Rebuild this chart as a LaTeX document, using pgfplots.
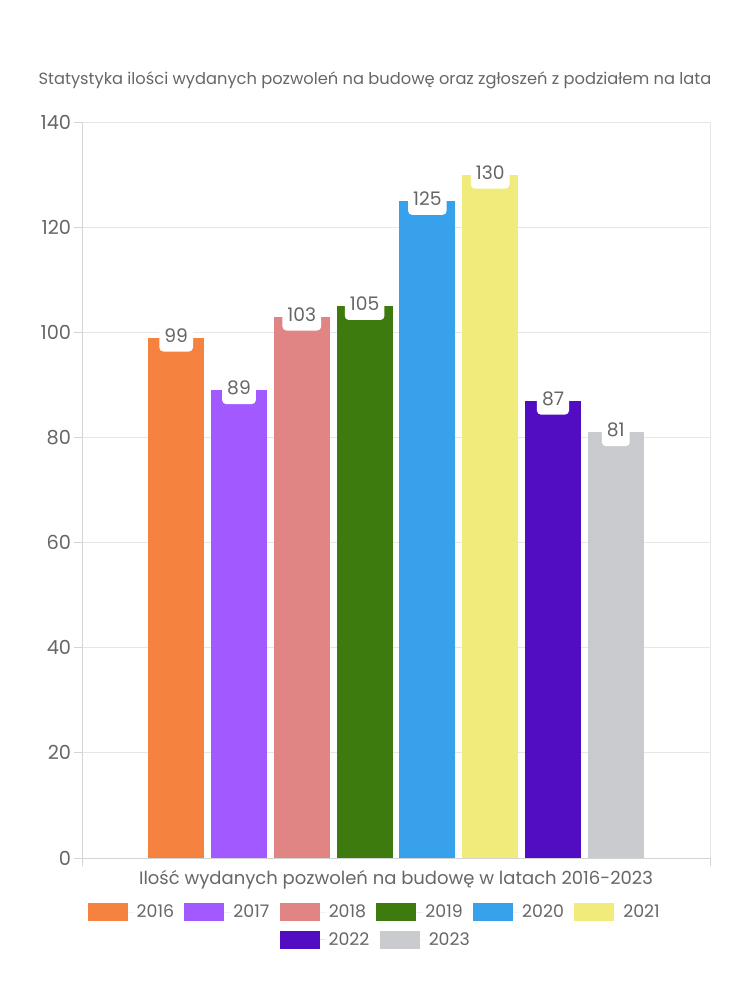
\documentclass[border=0pt]{standalone}
\usepackage{fontspec}
\setmainfont{Poppins}
\usepackage{pgfplots}
\pgfplotsset{compat=1.18}

\definecolor{txt}{HTML}{666666}
\definecolor{gridc}{HTML}{E6E6E6}
\definecolor{axisc}{HTML}{D4D4D4}
\definecolor{c2016}{HTML}{F5833F}
\definecolor{c2017}{HTML}{A259FF}
\definecolor{c2018}{HTML}{E08484}
\definecolor{c2019}{HTML}{3E7B0E}
\definecolor{c2020}{HTML}{37A2EB}
\definecolor{c2021}{HTML}{F0EB7B}
\definecolor{c2022}{HTML}{520DC3}
\definecolor{c2023}{HTML}{CACBCF}

\pgfplotsset{
  boxleg/.style={
    legend image code/.code={%
      \fill[##1] (0pt,-6.75pt) rectangle (30pt,6.75pt);
      \path (0pt,0pt) -- (34.75pt,0pt);},
    legend style={draw=none, fill=none, inner sep=0pt, text=txt,
      font=\fontsize{13}{15}\selectfont,
      nodes={inner sep=2pt, anchor=west},
      /tikz/every even column/.append style={column sep=5.8pt}},
  },
  bar/.style={ybar, bar shift=0pt, bar width=42pt, draw=none, fill=#1},
}

\begin{document}
\begin{tikzpicture}
\path (0,0) rectangle (562.5pt,750pt);
\node[text=txt, font=\fontsize{12.2}{14}\selectfont] at (281.25pt,690pt)
  {Statystyka ilości wydanych pozwoleń na budowę oraz zgłoszeń z podziałem na lata};

\begin{axis}[
  at={(61.5pt,106.5pt)}, anchor=south west,
  scale only axis, width=471pt, height=552pt,
  xmin=-1.5, xmax=8.5, ymin=0, ymax=140,
  axis x line*=bottom, axis y line*=left,
  ytick={0,20,...,140}, xtick={-1.5,8.5}, xticklabels={},
  tick align=outside, major tick length=6pt,
  ymajorgrids, xmajorgrids,
  grid style={color=gridc, line width=0.6pt},
  axis line style={color=axisc, line width=0.6pt, -},
  tick style={color=axisc, line width=0.6pt},
  every tick label/.append style={text=txt, font=\fontsize{14.5}{16}\selectfont},
  yticklabel style={inner sep=2pt},
  /pgf/number format/assume math mode=true,
  xlabel={Ilość wydanych pozwoleń na budowę w latach 2016-2023},
  xlabel style={at={(axis description cs:0.5,0)}, anchor=center, yshift=-16.5pt,
    text=txt, font=\fontsize{13.5}{15}\selectfont},
  boxleg,
  legend columns=6,
  legend style={at={(axis description cs:0.4666,-0.0734)}, anchor=center},
  nodes near coords,
  nodes near coords style={anchor=center, yshift=1.5pt, fill=white, text=txt,
    rounded corners=3pt, inner xsep=3.8pt, inner ysep=0pt, minimum height=24pt,
    font=\fontsize{14}{16}\selectfont},
]
\addplot[bar=c2016] coordinates {(0,99)};
\addlegendentry{2016}
\addplot[bar=c2017] coordinates {(1,89)};
\addlegendentry{2017}
\addplot[bar=c2018] coordinates {(2,103)};
\addlegendentry{2018}
\addplot[bar=c2019] coordinates {(3,105)};
\addlegendentry{2019}
\addplot[bar=c2020] coordinates {(4,125)};
\addlegendentry{2020}
\addplot[bar=c2021] coordinates {(5,130)};
\addlegendentry{2021}
\addplot[bar=c2022, forget plot] coordinates {(6,87)};
\addplot[bar=c2023, forget plot] coordinates {(7,81)};
\end{axis}

% second legend row (2022, 2023), centred like the original
\begin{axis}[
  at={(61.5pt,106.5pt)}, anchor=south west,
  scale only axis, width=471pt, height=552pt,
  xmin=-1.5, xmax=8.5, ymin=0, ymax=140,
  hide axis, boxleg,
  legend columns=2,
  legend style={at={(axis description cs:0.4682,-0.1114)}, anchor=center},
]
\addlegendimage{fill=c2022, draw=none}
\addlegendentry{2022}
\addlegendimage{fill=c2023, draw=none}
\addlegendentry{2023}
\end{axis}
\end{tikzpicture}
\end{document}
